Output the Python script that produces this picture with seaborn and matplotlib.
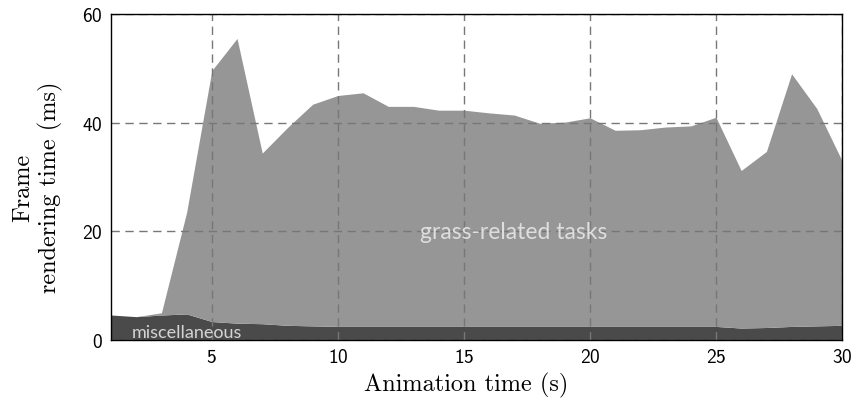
import numpy as np
import pandas as pd
import matplotlib
matplotlib.use("Agg")
import matplotlib.pyplot as plt
import seaborn as sns

# -------- data --------
time_s = list(range(1, 31))
misc_ms = [4.6, 4.3, 4.6, 4.8, 3.4, 3.1, 3.0, 2.7, 2.6, 2.5,
           2.5, 2.5, 2.5, 2.5, 2.5, 2.5, 2.5, 2.5, 2.5, 2.5,
           2.5, 2.5, 2.5, 2.5, 2.5, 2.2, 2.3, 2.5, 2.6, 2.7]
total_ms = [4.6, 4.3, 5.0, 23.5, 49.6, 55.5, 34.4, 39.1, 43.4, 45.0,
            45.5, 43.0, 43.0, 42.3, 42.3, 41.8, 41.4, 39.9, 40.1, 40.9,
            38.6, 38.7, 39.2, 39.4, 41.0, 31.2, 34.7, 49.0, 42.6, 33.0]
layer_names = ["miscellaneous", "grass-related tasks"]
layer_colors = ["#4a4a4a", "#969696"]

df = pd.DataFrame({"time": time_s, "misc": misc_ms, "total": total_ms})
df["grass"] = df["total"] - df["misc"]

# -------- plot --------
sns.set_theme(style="white")
plt.rcParams["font.family"] = ["cmss10", "DejaVu Sans"]
plt.rcParams["axes.formatter.use_mathtext"] = True

fig = plt.figure(figsize=(8.55, 4.02), dpi=100)
ax = fig.add_axes([111 / 855, 61 / 402, 731 / 855, 326 / 402])

# stacked areas: misc at the bottom, grass on top
ax.stackplot(df["time"], df["misc"], df["grass"],
             colors=layer_colors, linewidth=0, zorder=1)

ax.set_xlim(1, 30)
ax.set_ylim(0, 60)
ax.set_xticks([5, 10, 15, 20, 25, 30])
ax.set_yticks([0, 20, 40, 60])
ax.grid(True, color="#777777", linestyle=(0, (6, 4)), linewidth=1.0, zorder=2)
ax.set_axisbelow(False)
for s in ax.spines.values():
    s.set_color("black")
    s.set_linewidth(1.0)
    s.set_zorder(3)
ax.tick_params(axis="both", length=0, labelsize=14, colors="black", pad=6)

# in-area labels
ax.text(1.83, 1.5, layer_names[0], color="#d4d4d4", fontsize=13,
        family="Lato", va="center", ha="left", zorder=4)
ax.text(16.97, 20, layer_names[1], color="#dedede", fontsize=16.5,
        family="Lato", va="center", ha="center", zorder=4)

ax.set_xlabel("Animation time (s)", family="cmr10", fontsize=17.5, color="black")
ax.set_ylabel("Frame\nrendering time (ms)", family="cmr10", fontsize=17.5,
              color="black", linespacing=1.18)
ax.xaxis.set_label_coords(0.4856, -0.097)
ax.yaxis.set_label_coords(-0.066, 0.471)

fig.savefig("out.png", dpi=100)
